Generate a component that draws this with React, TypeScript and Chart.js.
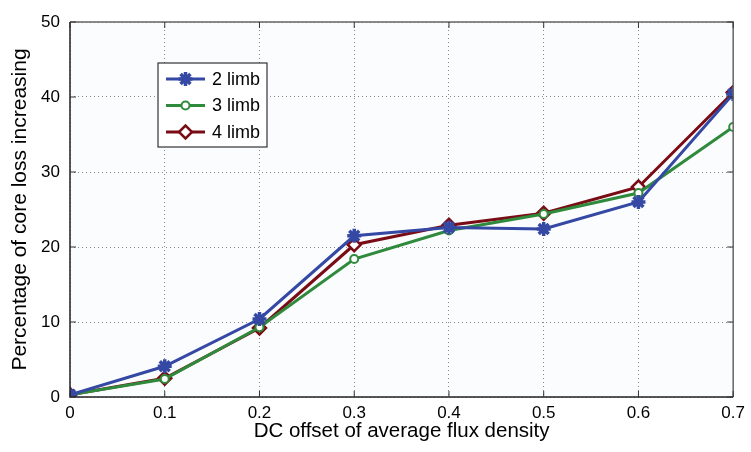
import React, { useEffect, useRef } from "react";
import { Chart, registerables } from "chart.js";
import { drawPoint } from "chart.js/helpers";

Chart.register(...registerables);

const xValues = [0, 0.1, 0.2, 0.3, 0.4, 0.5, 0.6, 0.7];
const limb2 = [0.3, 4.1, 10.4, 21.5, 22.6, 22.4, 26.0, 40.4];
const limb3 = [0.3, 2.4, 9.3, 18.4, 22.2, 24.4, 27.2, 36.0];
const limb4 = [0.3, 2.5, 9.2, 20.3, 22.9, 24.5, 28.0, 40.6];
const seriesLabels = ["2 limb", "3 limb", "4 limb"];
const seriesColors = ["#3448a4", "#2f8a3c", "#7a0c16"];
const xTitle = "DC offset of average flux density";
const yTitle = "Percentage of core loss increasing";

const FONT = "Arial, 'Liberation Sans', Helvetica, sans-serif";

const toPoints = (ys: number[]) => xValues.map((x, i) => ({ x, y: ys[i] }));

const frame = {
  id: "frame",
  beforeDraw(chart: any) {
    const { ctx, chartArea: a } = chart;
    ctx.save();
    ctx.fillStyle = "#ffffff";
    ctx.fillRect(0, 0, chart.width, chart.height);
    ctx.fillStyle = "#fafcfe";
    ctx.fillRect(a.left, a.top, a.right - a.left, a.bottom - a.top);
    ctx.restore();
  },
  afterDatasetsDraw(chart: any) {
    const { ctx, chartArea: a, scales } = chart;
    ctx.save();
    ctx.lineWidth = 1.5;
    ctx.strokeStyle = "#666";
    ctx.beginPath();
    ctx.moveTo(a.left, a.top);
    ctx.lineTo(a.right, a.top);
    ctx.lineTo(a.right, a.bottom);
    ctx.stroke();
    ctx.strokeStyle = "#222";
    ctx.beginPath();
    ctx.moveTo(a.left, a.top);
    ctx.lineTo(a.left, a.bottom);
    ctx.lineTo(a.right, a.bottom);
    ctx.stroke();
    ctx.lineWidth = 1;
    ctx.strokeStyle = "#333";
    const t = 6;
    scales.y.ticks.forEach((tk: any) => {
      const y = scales.y.getPixelForValue(tk.value);
      ctx.beginPath();
      ctx.moveTo(a.left, y);
      ctx.lineTo(a.left + t, y);
      ctx.moveTo(a.right, y);
      ctx.lineTo(a.right - t, y);
      ctx.stroke();
    });
    scales.x.ticks.forEach((tk: any) => {
      const x = scales.x.getPixelForValue(tk.value);
      ctx.beginPath();
      ctx.moveTo(x, a.bottom);
      ctx.lineTo(x, a.bottom - t);
      ctx.moveTo(x, a.top);
      ctx.lineTo(x, a.top + t);
      ctx.stroke();
    });
    // legend
    const lx = a.left + 88;
    const ly = a.top + 41;
    const lw = 109;
    const lh = 84;
    ctx.fillStyle = "#ffffff";
    ctx.fillRect(lx, ly, lw, lh);
    ctx.lineWidth = 1.2;
    ctx.strokeStyle = "#333";
    ctx.strokeRect(lx, ly, lw, lh);
    chart.data.datasets.forEach((ds: any, i: number) => {
      const y = ly + 16 + i * 26.5;
      ctx.strokeStyle = ds.borderColor;
      ctx.lineWidth = ds.borderWidth;
      ctx.beginPath();
      ctx.moveTo(lx + 8, y);
      ctx.lineTo(lx + 47, y);
      ctx.stroke();
      ctx.fillStyle = ds.pointBackgroundColor;
      ctx.strokeStyle = ds.pointBorderColor;
      ctx.lineWidth = ds.pointBorderWidth;
      drawPoint(ctx, { pointStyle: ds.pointStyle, radius: ds.pointRadius, borderWidth: ds.pointBorderWidth, rotation: 0 } as any, lx + 27.5, y);
      ctx.fillStyle = "#000";
      ctx.font = `18px ${FONT}`;
      ctx.textBaseline = "middle";
      ctx.textAlign = "left";
      ctx.fillText(ds.label, lx + 54, y + 1);
    });
    ctx.restore();
  },
};

export default function App() {
  const ref = useRef<HTMLCanvasElement>(null);
  useEffect(() => {
    document.body.style.margin = "0";
    const mk = (i: number, ys: number[], style: string, radius: number, fill: string, bw: number) => ({
      label: seriesLabels[i],
      data: toPoints(ys),
      borderColor: seriesColors[i],
      backgroundColor: seriesColors[i],
      borderWidth: 3,
      pointStyle: style,
      pointRadius: radius,
      pointBorderColor: seriesColors[i],
      pointBackgroundColor: fill,
      pointBorderWidth: bw,
      tension: 0,
      showLine: true,
    });
    const chart = new Chart(ref.current!, {
      type: "scatter",
      data: {
        datasets: [
          mk(0, limb2, "star", 7, seriesColors[0], 3.5),
          mk(1, limb3, "circle", 4, "#ffffff", 2),
          mk(2, limb4, "rectRot", 6.5, "#ffffff", 2.5),
        ] as any,
      },
      plugins: [frame],
      options: {
        animation: false,
        responsive: false,
        layout: { padding: { left: 0, top: 22, right: 12, bottom: 0 } },
        plugins: { legend: { display: false }, tooltip: { enabled: false } },
        scales: {
          x: {
            type: "linear",
            min: 0,
            max: 0.7,
            afterFit: (s: any) => { s.height = 55; },
            ticks: {
              stepSize: 0.1,
              padding: 6,
              color: "#000",
              font: { family: FONT, size: 17 },
              callback: (v: any) => (Number(v) === 0 ? "0" : Number(v).toFixed(1)),
            },
            grid: { color: "#888", lineWidth: 1, drawTicks: false },
            border: { display: false, dash: [1, 3] },
            title: { display: true, text: xTitle, color: "#000", font: { family: FONT, size: 20.5 }, padding: { top: 0, bottom: 8 } },
          },
          y: {
            min: 0,
            max: 50,
            afterFit: (s: any) => { s.width = 70; },
            ticks: {
              stepSize: 10,
              padding: 10,
              color: "#000",
              font: { family: FONT, size: 17 },
            },
            grid: { color: "#888", lineWidth: 1, drawTicks: false },
            border: { display: false, dash: [1, 3] },
            title: { display: true, text: yTitle, color: "#000", font: { family: FONT, size: 21 }, padding: { top: 8, bottom: 0 } },
          },
        },
      } as any,
    });
    return () => chart.destroy();
  }, []);
  return (
    <div style={{ width: 751, height: 452 }}>
      <canvas ref={ref} width={751} height={452} style={{ display: "block" }} />
    </div>
  );
}
